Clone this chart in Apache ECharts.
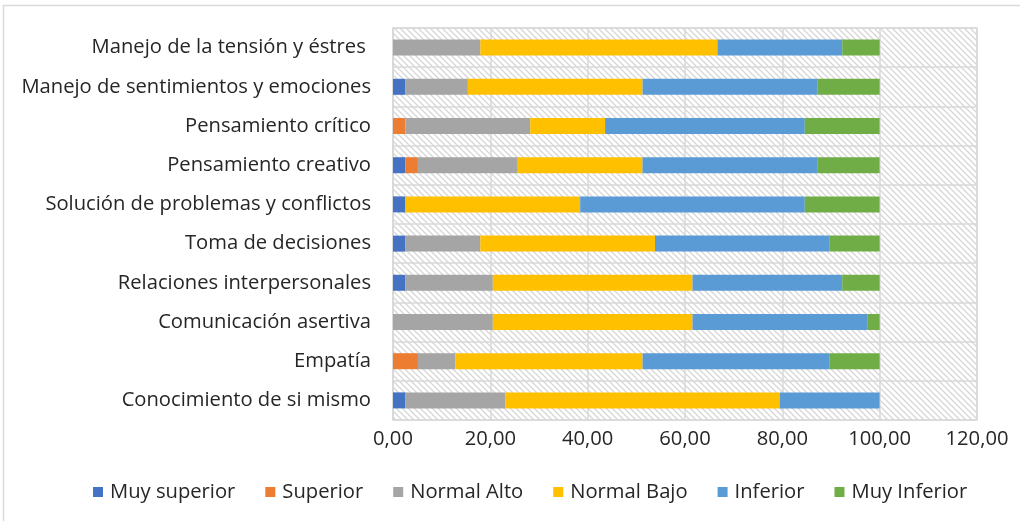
<!DOCTYPE html>
<html><head><meta charset="utf-8">
<script src="https://cdn.jsdelivr.net/npm/echarts@6/dist/echarts.min.js"></script>
<style>html,body{margin:0;padding:0;background:#fff}#c{width:1020px;height:521px}</style>
</head><body><div id="c"></div>
<script>
const categories = [
  'Conocimiento de si mismo',
  'Empatía',
  'Comunicación asertiva',
  'Relaciones interpersonales',
  'Toma de decisiones',
  'Solución de problemas y conflictos',
  'Pensamiento creativo',
  'Pensamiento crítico',
  'Manejo de sentimientos y emociones',
  'Manejo de la tensión y éstres '
];
const seriesNames = ['Muy superior', 'Superior', 'Normal Alto', 'Normal Bajo', 'Inferior', 'Muy Inferior'];
const muySuperior = [2.56, 0, 0, 2.56, 2.56, 2.56, 2.56, 0, 2.56, 0];
const superior    = [0, 5.13, 0, 0, 0, 0, 2.56, 2.56, 0, 0];
const normalAlto  = [20.51, 7.69, 20.51, 17.95, 15.38, 0, 20.51, 25.64, 12.82, 17.95];
const normalBajo  = [56.41, 38.46, 41.03, 41.03, 35.90, 35.90, 25.64, 15.38, 35.90, 48.72];
const inferior    = [20.51, 38.46, 35.90, 30.77, 35.90, 46.15, 35.90, 41.03, 35.90, 25.64];
const muyInferior = [0, 10.26, 2.56, 7.69, 10.26, 15.38, 12.82, 15.38, 12.82, 7.69];
const xTicks = [0, 20, 40, 60, 80, 100, 120];
const colors = ['#4472C4', '#ED7D31', '#A5A5A5', '#FFC000', '#5B9BD5', '#70AD47'];
const values = [muySuperior, superior, normalAlto, normalBajo, inferior, muyInferior];

const pc = document.createElement('canvas');
pc.width = 6; pc.height = 6;
const g = pc.getContext('2d');
g.fillStyle = '#ffffff'; g.fillRect(0, 0, 6, 6);
g.strokeStyle = '#d6d6d6'; g.lineWidth = 1.3;
g.beginPath();
g.moveTo(-1, -1); g.lineTo(7, 7);
g.moveTo(-4, 2); g.lineTo(4, 10);
g.moveTo(2, -4); g.lineTo(10, 4);
g.stroke();

const font = '"Open Sans", sans-serif';
const fs = 20.2;
const chart = echarts.init(document.getElementById('c'), null, {renderer: 'canvas'});
chart.setOption({
  animation: false,
  color: colors,
  graphic: [{type: 'rect', shape: {x: 3.5, y: 5.5, width: 1030, height: 530}, style: {fill: 'none', stroke: '#d9d9d9', lineWidth: 1.5}, silent: true}],
  grid: {left: 393, right: 43, top: 28, bottom: 101, show: true, backgroundColor: {image: pc, repeat: 'repeat'}, borderColor: '#d9d9d9', borderWidth: 1.5},
  legend: {
    bottom: 14, left: 88, icon: 'rect', itemWidth: 10, itemHeight: 10, itemGap: 30,
    textStyle: {fontFamily: font, fontSize: fs, color: '#262626', padding: [0, 0, 0, 2]},
    data: seriesNames
  },
  xAxis: {
    type: 'value', min: 0, max: 120, interval: 20,
    axisLine: {show: false}, axisTick: {show: false},
    splitLine: {show: true, lineStyle: {color: '#d9d9d9', width: 1.5}},
    axisLabel: {fontFamily: font, fontSize: fs, color: '#262626', margin: 9,
      formatter: v => xTicks.includes(v) ? v.toFixed(2).replace('.', ',') : ''}
  },
  yAxis: {
    type: 'category', data: categories,
    axisLine: {show: true, lineStyle: {color: '#d9d9d9', width: 1.5}},
    axisTick: {show: false},
    splitLine: {show: true, lineStyle: {color: '#d9d9d9', width: 1.5}},
    axisLabel: {fontFamily: font, fontSize: fs, color: '#262626', margin: 22}
  },
  series: seriesNames.map((n, i) => ({
    name: n, type: 'bar', stack: 'total', barWidth: 16, data: values[i], itemStyle: {color: colors[i]}
  }))
});
</script></body></html>
